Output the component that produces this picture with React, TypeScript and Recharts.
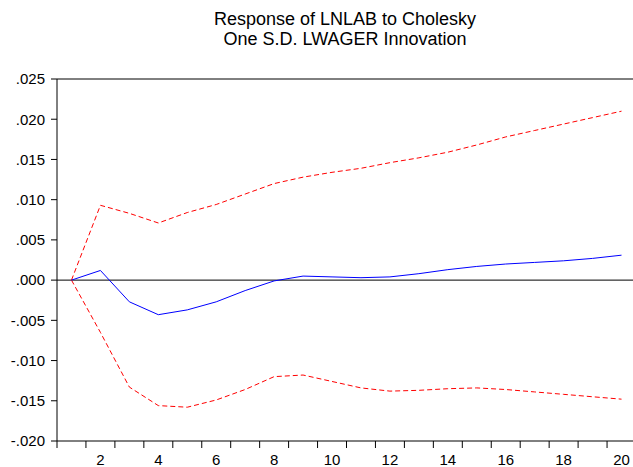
import { LineChart, Line, XAxis, YAxis, ReferenceLine } from "recharts";

const periods = [1, 2, 3, 4, 5, 6, 7, 8, 9, 10, 11, 12, 13, 14, 15, 16, 17, 18, 19, 20];
const response = [0, 0.0012, -0.0027, -0.0043, -0.0037, -0.0027, -0.0013, -0.0001, 0.0005, 0.0004, 0.0003, 0.0004, 0.0008, 0.0013, 0.0017, 0.002, 0.0022, 0.0024, 0.0027, 0.0031];
const upperBand = [0, 0.0093, 0.0083, 0.0071, 0.0084, 0.0094, 0.0107, 0.012, 0.0128, 0.0134, 0.0139, 0.0146, 0.0152, 0.0159, 0.0168, 0.0178, 0.0186, 0.0194, 0.0202, 0.021];
const lowerBand = [0, -0.0065, -0.0133, -0.0156, -0.0158, -0.0149, -0.0136, -0.012, -0.0118, -0.0126, -0.0134, -0.0138, -0.0137, -0.0135, -0.0134, -0.0136, -0.0139, -0.0142, -0.0145, -0.0148];
const labelTicks = [2, 4, 6, 8, 10, 12, 14, 16, 18, 20];
const boundaryTicks = [0.5, 1.5, 2.5, 3.5, 4.5, 5.5, 6.5, 7.5, 8.5, 9.5, 10.5, 11.5, 12.5, 13.5, 14.5, 15.5, 16.5, 17.5, 18.5, 19.5, 20.5];
const yTicks = [-0.02, -0.015, -0.01, -0.005, 0, 0.005, 0.01, 0.015, 0.02, 0.025];

const data = periods.map((p, i) => ({
  period: p,
  response: response[i],
  upper: upperBand[i],
  lower: lowerBand[i],
}));

const xTicks = [...boundaryTicks, ...labelTicks].sort((a, b) => a - b);

const font = "'Liberation Sans', Arial, sans-serif";
const fmt = (v: number) => v.toFixed(3).replace("0.", ".");

// boundary ticks get a mark, whole periods get a label
function XTick(props: any) {
  const { x, y, payload } = props;
  const v = payload.value as number;
  if (v % 1 !== 0) {
    return <line x1={x} x2={x} y1={y - 13} y2={y - 6} stroke="#000" strokeWidth={1} />;
  }
  return (
    <text x={x} y={y} dy="0.71em" textAnchor="middle" fill="#000" fontSize={15} fontFamily={font}>
      {v}
    </text>
  );
}

export default function App() {
  return (
    <div style={{ position: "absolute", left: 0, top: 0, width: 633, height: 467, overflow: "hidden", background: "#fff" }}>
      <div
        style={{
          position: "absolute",
          left: 57,
          top: 9,
          width: 576,
          textAlign: "center",
          fontFamily: font,
          fontSize: 18,
          lineHeight: "20px",
          color: "#000",
        }}
      >
        Response of LNLAB to Cholesky
        <br />
        One S.D. LWAGER Innovation
      </div>
      <LineChart width={640} height={467} data={data} margin={{ top: 79, right: 4, left: 0, bottom: 0 }}>
        <XAxis
          type="number"
          dataKey="period"
          domain={[0.5, 20.5]}
          ticks={xTicks}
          interval={0}
          height={26}
          tickLine={false}
          tickSize={7}
          tickMargin={6}
          stroke="#000"
          tick={<XTick />}
          allowDataOverflow
        />
        <YAxis
          type="number"
          domain={[-0.02, 0.025]}
          ticks={yTicks}
          width={57}
          tickSize={6}
          tickMargin={6}
          stroke="#000"
          tickFormatter={fmt}
          tick={{ fill: "#000", fontSize: 15, fontFamily: font }}
          allowDataOverflow
        />
        <ReferenceLine y={0.025} stroke="#000" strokeWidth={1} />
        <ReferenceLine y={0} stroke="#000" strokeWidth={1} />
        <Line dataKey="upper" stroke="#ff0000" strokeWidth={1} strokeDasharray="5 3" dot={false} isAnimationActive={false} />
        <Line dataKey="lower" stroke="#ff0000" strokeWidth={1} strokeDasharray="5 3" dot={false} isAnimationActive={false} />
        <Line dataKey="response" stroke="#0000ff" strokeWidth={1} dot={false} isAnimationActive={false} />
      </LineChart>
    </div>
  );
}
